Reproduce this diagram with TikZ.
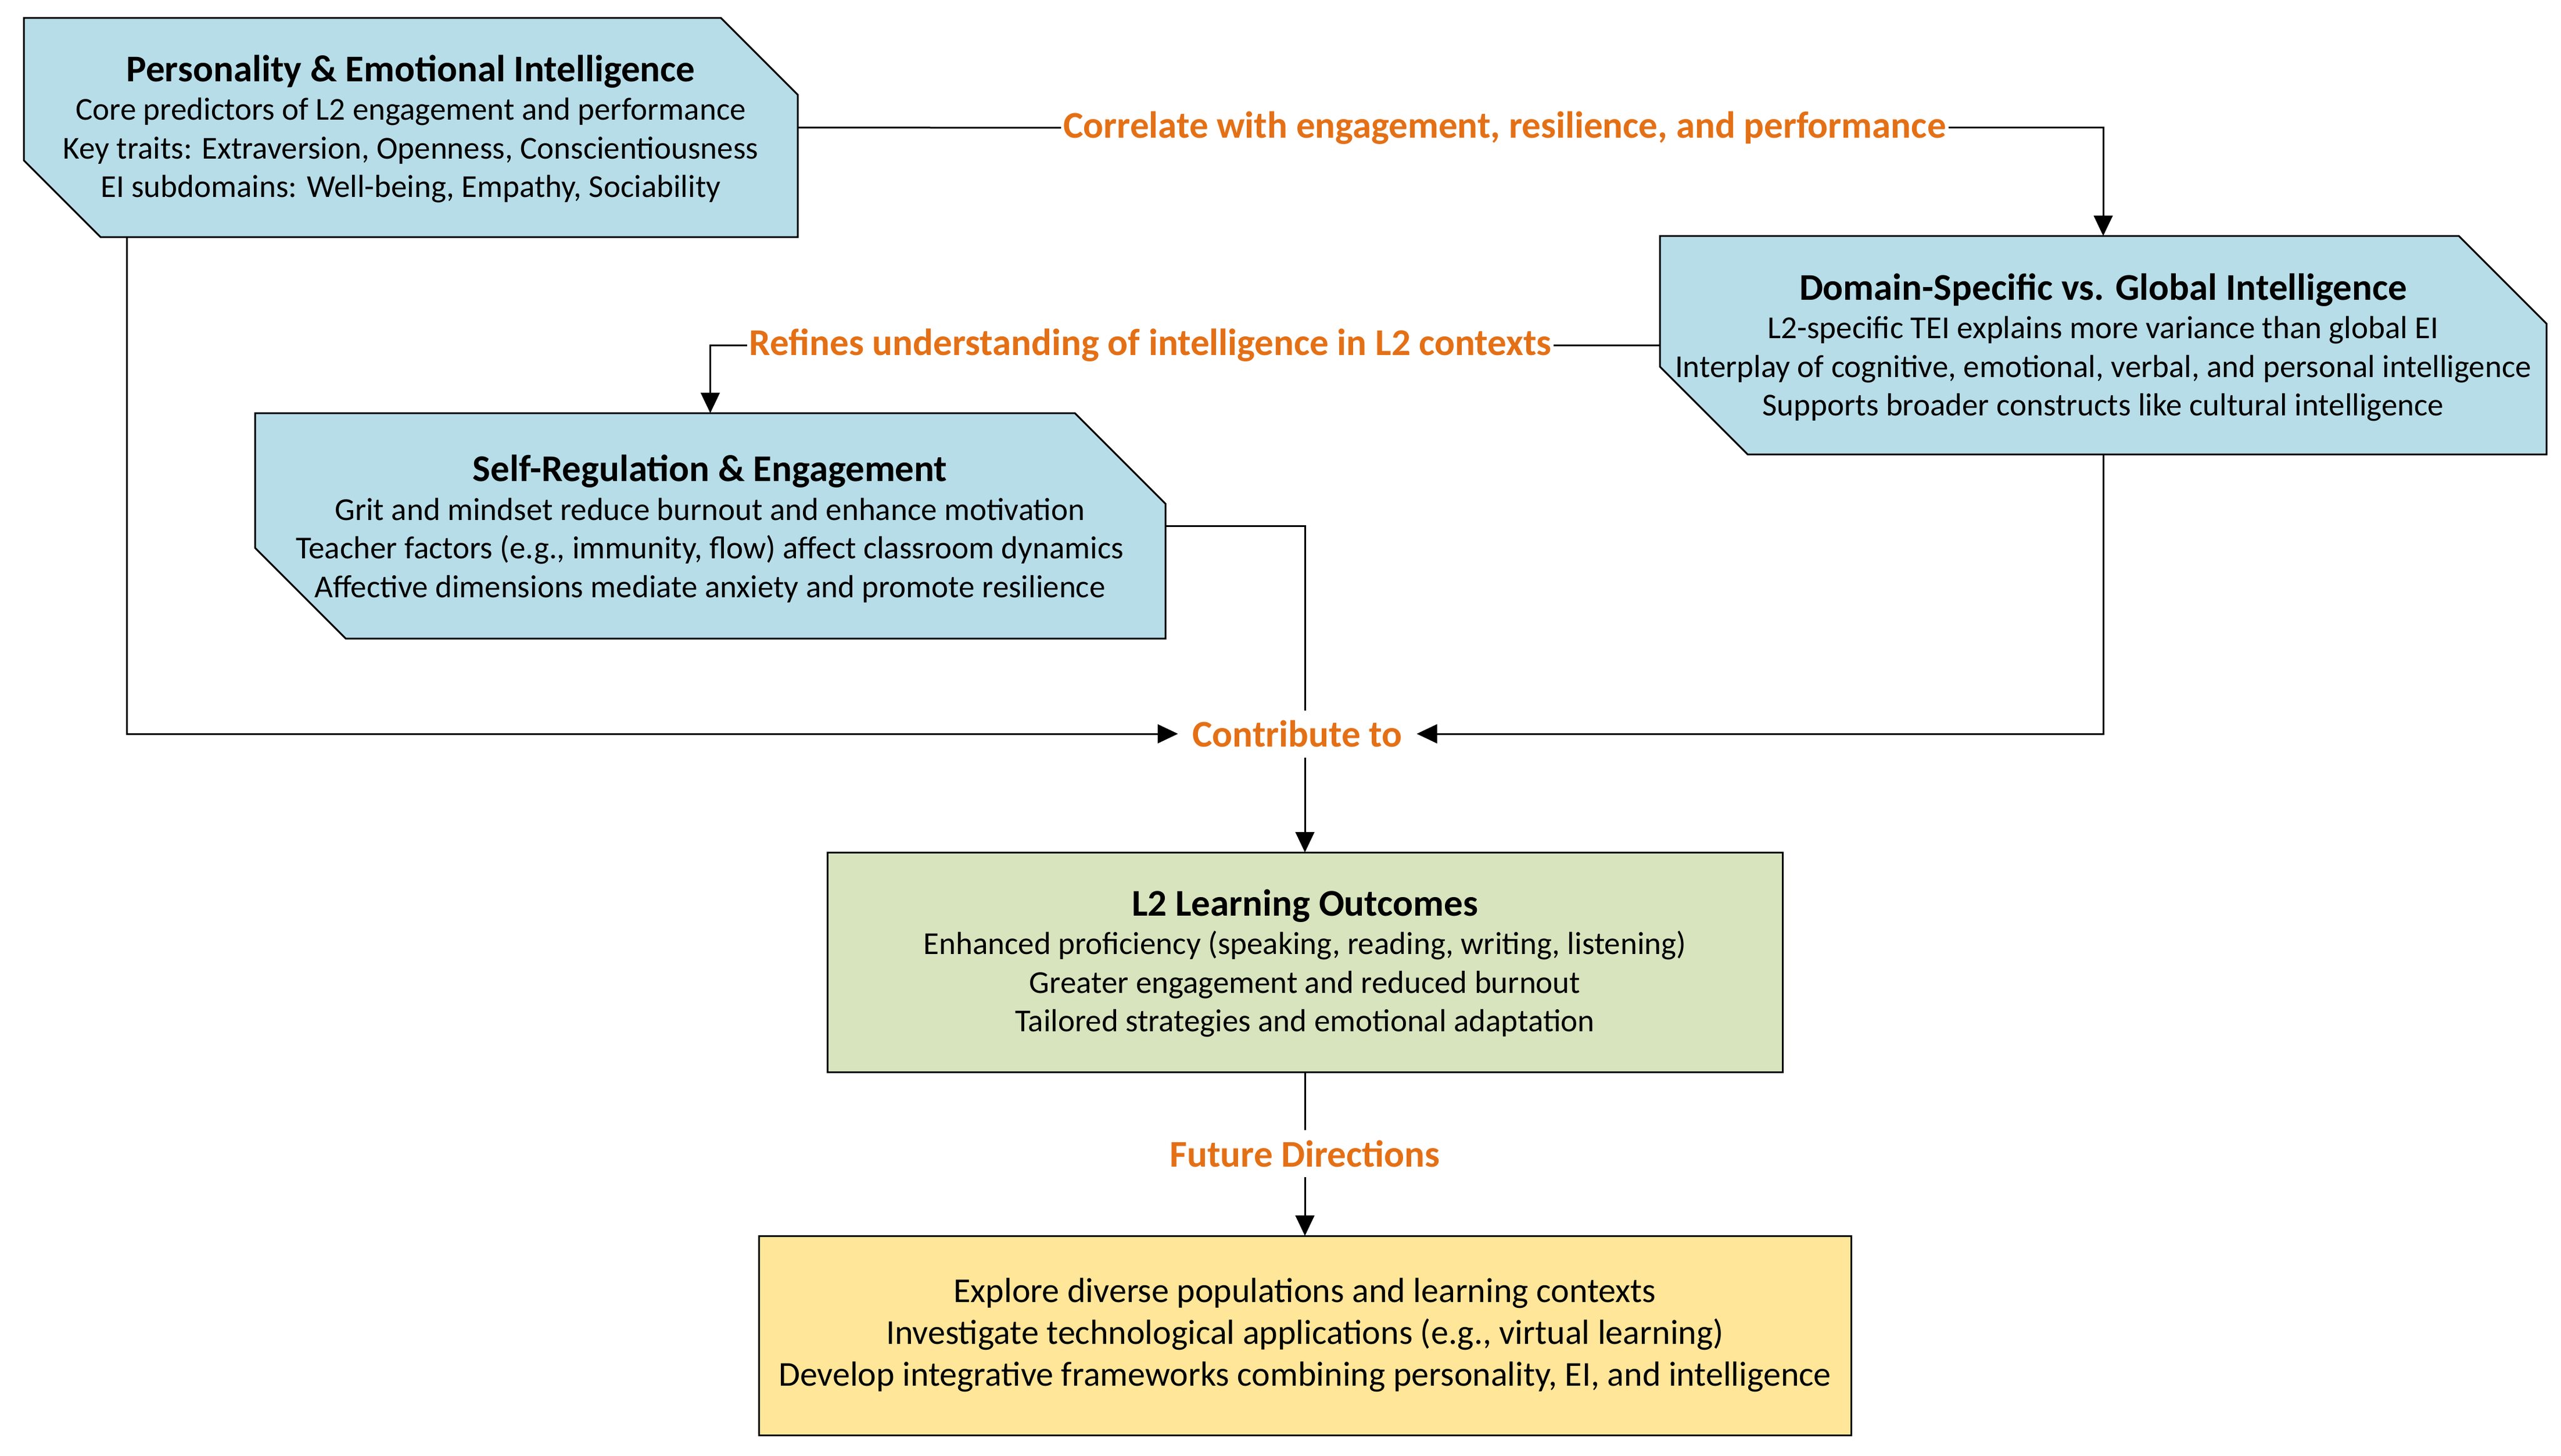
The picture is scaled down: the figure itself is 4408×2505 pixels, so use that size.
\documentclass[tikz,border=0pt]{standalone}
\usepackage{fontspec}
\setmainfont{Carlito}
\usetikzlibrary{arrows.meta,fit,calc}
\definecolor{boxblue}{RGB}{183,221,232}
\definecolor{boxgreen}{RGB}{215,228,189}
\definecolor{boxyellow}{RGB}{255,230,153}
\definecolor{labelorange}{RGB}{228,112,22}
\newcommand\chamferbox[3]{\draw[boxline,fill=#3] (#1.north west) -- ([xshift=-#2]#1.north east) -- ([yshift=-#2]#1.north east) -- (#1.south east) -- ([xshift=#2]#1.south west) -- ([yshift=#2]#1.south west) -- cycle;}
\newcommand\boxtitle[1]{{\bfseries\fontsize{13}{15.6}\selectfont #1}}
\begin{document}
\begin{tikzpicture}[x=0.2pt,y=-0.2pt,
  boxline/.style={draw=black,line width=0.6pt},
  frame/.style={inner sep=0pt},
  boxtext/.style={align=center,font=\fontsize{11}{13.3}\selectfont,inner sep=0pt},
  bigtext/.style={align=center,font=\fontsize{12}{14.4}\selectfont,inner sep=0pt},
  lbl/.style={font=\bfseries\fontsize{13}{15.6}\selectfont,text=labelorange,inner xsep=0.6pt,inner ysep=0pt},
  conn/.style={line width=0.6pt,draw=black},
  arr/.style={conn,-{Triangle[length=7pt,width=6.5pt]}}]
\useasboundingbox[fill=white] (0,0) rectangle (4408,2505);

% frames
\node[frame,fit={(42,32) (1372,407)}] (b1) {};
\node[frame,fit={(2858,407) (4382,781)}] (b2) {};
\node[frame,fit={(440,712) (2005,1098)}] (b3) {};
\node[frame,fit={(1425,1468) (3067,1844)}] (b4) {};
\node[frame,fit={(1307,2128) (3185,2469)}] (b5) {};

\chamferbox{b1}{26.4pt}{boxblue}
\chamferbox{b2}{30.2pt}{boxblue}
\chamferbox{b3}{31.2pt}{boxblue}
\draw[boxline,fill=boxgreen] (b4.north west) rectangle (b4.south east);
\draw[boxline,fill=boxyellow] (b5.north west) rectangle (b5.south east);

% texts
\node[boxtext] (t1) at (707,222) {\boxtitle{Personality \& Emotional Intelligence}\\
Core predictors of L2 engagement and performance\\
Key traits: Extraversion, Openness, Conscientiousness\\
EI subdomains: Well-being, Empathy, Sociability};
\node[boxtext] (t2) at (3620,598) {\boxtitle{Domain-Specific vs. Global Intelligence}\\
L2-specific TEI explains more variance than global EI\\
Interplay of cognitive, emotional, verbal, and personal intelligence\\
Supports broader constructs like cultural intelligence};
\node[boxtext] (t3) at (1222,910) {\boxtitle{Self-Regulation \& Engagement}\\
Grit and mindset reduce burnout and enhance motivation\\
Teacher factors (e.g., immunity, flow) affect classroom dynamics\\
Affective dimensions mediate anxiety and promote resilience};
\node[boxtext] (t4) at (2246,1658) {\boxtitle{L2 Learning Outcomes}\\
Enhanced proficiency (speaking, reading, writing, listening)\\
Greater engagement and reduced burnout\\
Tailored strategies and emotional adaptation};
\node[bigtext] (t5) at (2246,2298) {Explore diverse populations and learning contexts\\
Investigate technological applications (e.g., virtual learning)\\
Develop integrative frameworks combining personality, EI, and intelligence};

% labels
\node[lbl] (l1) at (2590,220) {Correlate with engagement, resilience, and performance};
\node[lbl] (l2) at (1980,594) {Refines understanding of intelligence in L2 contexts};
\node[lbl,minimum height=15.8pt,inner xsep=4.8pt] (contrib) at (2233,1263) {Contribute to};
\node[lbl,minimum height=15.8pt] (fut) at (2246,1985.5) {Future Directions};

% connectors
\draw[conn] (b1.east) -- (l1.west);
\draw[arr] (l1.east) -| (b2.north);
\draw[conn] (b2.west) -- (l2.east);
\draw[arr] (l2.west) -| (b3.north);
\draw[conn] (b3.east) -| (b4.north |- contrib.north);
\draw[arr] (b4.north |- contrib.south) -- (b4.north);
\draw[arr] ($(b1.south west)+(177,0)$) |- (contrib.west);
\draw[arr] (b2.south) |- (contrib.east);
\draw[conn] (b4.south) -- (fut.north);
\draw[arr] (fut.south) -- (b5.north);
\end{tikzpicture}
\end{document}
